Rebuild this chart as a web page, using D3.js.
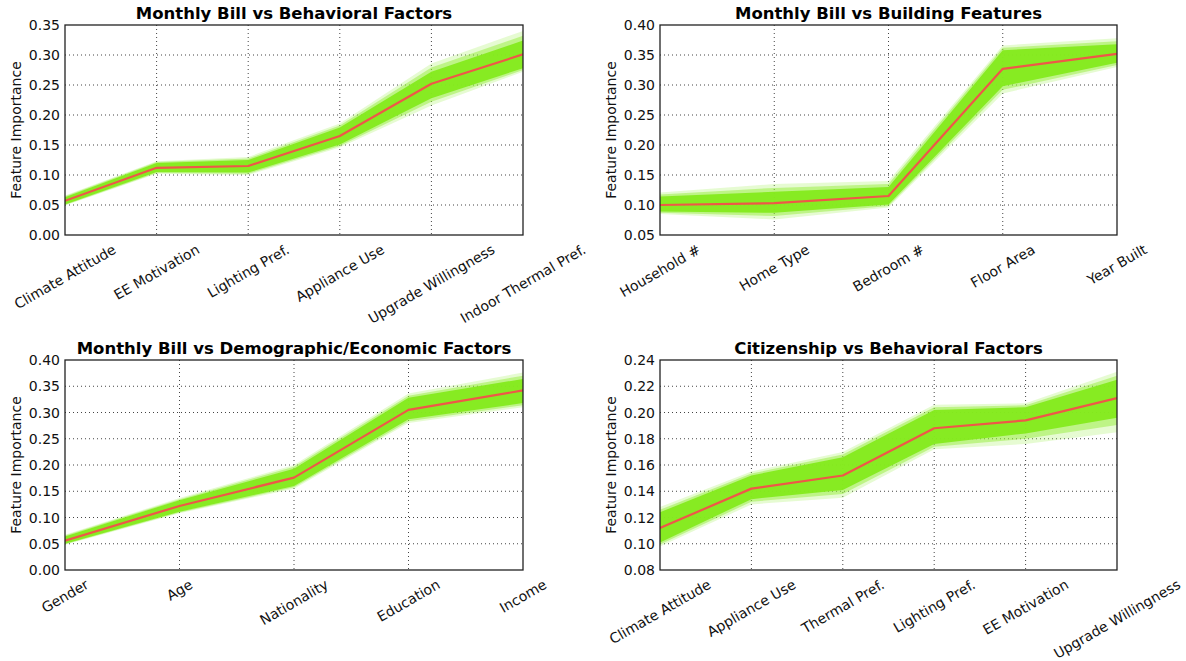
<!DOCTYPE html>
<html>
<head>
<meta charset="utf-8">
<script src="https://cdn.jsdelivr.net/npm/d3@7"></script>
<style>
  html, body { margin: 0; padding: 0; background: #fff; }
  svg { display: block; font-family: "DejaVu Sans", sans-serif; }
</style>
</head>
<body>
<svg id="chart" width="1186" height="661"></svg>
<script>
// ---- Panel A: Monthly Bill vs Behavioral Factors ----
const catsA = ["Climate Attitude", "EE Motivation", "Lighting Pref.", "Appliance Use", "Upgrade Willingness", "Indoor Thermal Pref."];
const meanA = [0.057, 0.112, 0.115, 0.165, 0.252, 0.301];
const coreLoA = [0.051, 0.105, 0.104, 0.151, 0.228, 0.278];
const coreHiA = [0.063, 0.120, 0.125, 0.179, 0.272, 0.324];
const fadeLoA = [0.049, 0.102, 0.100, 0.146, 0.216, 0.272];
const fadeHiA = [0.066, 0.123, 0.130, 0.186, 0.286, 0.340];
const ticksA = [0.00, 0.05, 0.10, 0.15, 0.20, 0.25, 0.30, 0.35];

// ---- Panel B: Monthly Bill vs Building Features ----
const catsB = ["Household #", "Home Type", "Bedroom #", "Floor Area", "Year Built"];
const meanB = [0.100, 0.103, 0.115, 0.327, 0.352];
const coreLoB = [0.089, 0.087, 0.101, 0.298, 0.337];
const coreHiB = [0.114, 0.122, 0.130, 0.358, 0.368];
const fadeLoB = [0.085, 0.076, 0.096, 0.286, 0.330];
const fadeHiB = [0.121, 0.135, 0.140, 0.366, 0.378];
const ticksB = [0.05, 0.10, 0.15, 0.20, 0.25, 0.30, 0.35, 0.40];

// ---- Panel C: Monthly Bill vs Demographic/Economic Factors ----
const catsC = ["Gender", "Age", "Nationality", "Education", "Income"];
const meanC = [0.056, 0.122, 0.176, 0.305, 0.342];
const coreLoC = [0.050, 0.111, 0.160, 0.287, 0.318];
const coreHiC = [0.064, 0.133, 0.193, 0.328, 0.364];
const fadeLoC = [0.048, 0.108, 0.155, 0.280, 0.310];
const fadeHiC = [0.067, 0.137, 0.200, 0.336, 0.376];
const ticksC = [0.00, 0.05, 0.10, 0.15, 0.20, 0.25, 0.30, 0.35, 0.40];

// ---- Panel D: Citizenship vs Behavioral Factors ----
const catsD = ["Climate Attitude", "Appliance Use", "Thermal Pref.", "Lighting Pref.", "EE Motivation", "Upgrade Willingness"];
const meanD = [0.112, 0.142, 0.152, 0.188, 0.194, 0.211];
const coreLoD = [0.101, 0.134, 0.141, 0.176, 0.184, 0.196];
const coreHiD = [0.124, 0.152, 0.166, 0.202, 0.204, 0.225];
const fadeLoD = [0.098, 0.130, 0.135, 0.172, 0.176, 0.185];
const fadeHiD = [0.128, 0.155, 0.170, 0.206, 0.207, 0.231];
const ticksD = [0.08, 0.10, 0.12, 0.14, 0.16, 0.18, 0.20, 0.22, 0.24];

const titles = [
  "Monthly Bill vs Behavioral Factors",
  "Monthly Bill vs Building Features",
  "Monthly Bill vs Demographic/Economic Factors",
  "Citizenship vs Behavioral Factors"
];

const panels = [
  { title: titles[0], cats: catsA, mean: meanA, coreLo: coreLoA, coreHi: coreHiA, fadeLo: fadeLoA, fadeHi: fadeHiA, ticks: ticksA,
    box: { left: 65, right: 523, top: 25, bottom: 235 } },
  { title: titles[1], cats: catsB, mean: meanB, coreLo: coreLoB, coreHi: coreHiB, fadeLo: fadeLoB, fadeHi: fadeHiB, ticks: ticksB,
    box: { left: 660, right: 1117, top: 25, bottom: 235 } },
  { title: titles[2], cats: catsC, mean: meanC, coreLo: coreLoC, coreHi: coreHiC, fadeLo: fadeLoC, fadeHi: fadeHiC, ticks: ticksC,
    box: { left: 65, right: 523, top: 360, bottom: 570 } },
  { title: titles[3], cats: catsD, mean: meanD, coreLo: coreLoD, coreHi: coreHiD, fadeLo: fadeLoD, fadeHi: fadeHiD, ticks: ticksD,
    box: { left: 660, right: 1117, top: 360, bottom: 570 } }
];

const svg = d3.select("#chart");
const fmt = d3.format(".2f");
const xFont = 14;

panels.forEach(p => {
  const b = p.box;
  const g = svg.append("g");

  const x = d3.scalePoint().domain(p.cats).range([b.left, b.right]);
  const y = d3.scaleLinear()
    .domain([p.ticks[0], p.ticks[p.ticks.length - 1]])
    .range([b.bottom, b.top]);

  const clipId = "clip-" + Math.round(b.left) + "-" + Math.round(b.top);
  svg.append("clipPath").attr("id", clipId)
    .append("rect").attr("x", b.left).attr("y", b.top)
    .attr("width", b.right - b.left).attr("height", b.bottom - b.top);

  // dotted grid
  const grid = g.append("g").attr("stroke", "#444").attr("stroke-width", 1)
    .attr("stroke-dasharray", "1,3").attr("fill", "none");
  p.ticks.slice(1, -1).forEach(t => {
    grid.append("line").attr("x1", b.left).attr("x2", b.right)
      .attr("y1", y(t)).attr("y2", y(t));
  });
  p.cats.slice(1, -1).forEach(c => {
    grid.append("line").attr("x1", x(c)).attr("x2", x(c))
      .attr("y1", b.top).attr("y2", b.bottom);
  });

  const plot = g.append("g").attr("clip-path", "url(#" + clipId + ")");
  const idx = d3.range(p.cats.length);

  const area = (lo, hi) => d3.area()
    .x(i => x(p.cats[i]))
    .y0(i => y(lo[i]))
    .y1(i => y(hi[i]));

  // faint outer spread of the bootstrap lines
  plot.append("path").datum(idx)
    .attr("d", area(p.fadeLo, p.fadeHi))
    .attr("fill", "#9cf04a").attr("fill-opacity", 0.25);
  // soft edge between outer spread and dense core
  plot.append("path").datum(idx)
    .attr("d", area(
      p.fadeLo.map((v, i) => (v + p.coreLo[i]) / 2),
      p.fadeHi.map((v, i) => (v + p.coreHi[i]) / 2)))
    .attr("fill", "#8eec2c").attr("fill-opacity", 0.45);
  // dense core
  plot.append("path").datum(idx)
    .attr("d", area(p.coreLo, p.coreHi))
    .attr("fill", "#84ea1c").attr("fill-opacity", 0.95);

  // mean line
  plot.append("path").datum(idx)
    .attr("d", d3.line().x(i => x(p.cats[i])).y(i => y(p.mean[i])))
    .attr("fill", "none").attr("stroke", "#ef5748").attr("stroke-width", 2.2)
    .attr("stroke-linejoin", "round");

  // frame
  g.append("rect").attr("x", b.left).attr("y", b.top)
    .attr("width", b.right - b.left).attr("height", b.bottom - b.top)
    .attr("fill", "none").attr("stroke", "#222").attr("stroke-width", 1.3);

  // y tick labels
  g.append("g").selectAll("text").data(p.ticks).join("text")
    .attr("x", b.left - 5).attr("y", d => y(d))
    .attr("text-anchor", "end").attr("dominant-baseline", "central")
    .attr("font-size", 14).attr("fill", "#111")
    .text(d => fmt(d));

  // x tick labels, rotated 30°, bounding box centred under each tick
  const ang = 30 * Math.PI / 180;
  g.append("g").selectAll("text").data(p.cats).join("text")
    .attr("font-size", xFont).attr("fill", "#111")
    .attr("text-anchor", "middle").attr("dominant-baseline", "central")
    .text(d => d)
    .each(function(d) {
      const w = this.getComputedTextLength();
      const h = xFont * 1.17;
      const bh = w * Math.sin(ang) + h * Math.cos(ang);
      const cy = b.bottom + 6 + bh / 2;
      d3.select(this).attr("transform", `translate(${x(d)},${cy}) rotate(-30)`);
    });

  // y axis label
  g.append("text")
    .attr("transform", `translate(${b.left - 49},${(b.top + b.bottom) / 2}) rotate(-90)`)
    .attr("text-anchor", "middle").attr("dominant-baseline", "central")
    .attr("font-size", 14).attr("fill", "#111")
    .text("Feature Importance");

  // title
  g.append("text")
    .attr("x", (b.left + b.right) / 2).attr("y", b.top - 6)
    .attr("text-anchor", "middle")
    .attr("font-size", 16.5).attr("font-weight", "bold").attr("fill", "#000")
    .text(p.title);
});
</script>
</body>
</html>
